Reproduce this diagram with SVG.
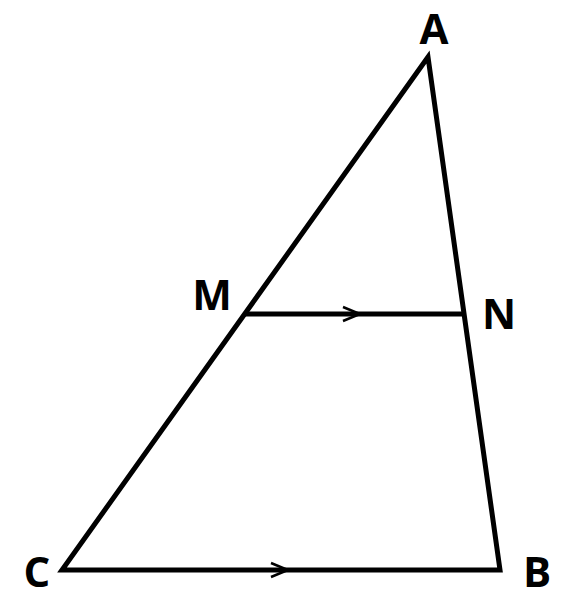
<svg xmlns="http://www.w3.org/2000/svg" width="570" height="600" viewBox="0 0 570 600">
<style>
.edge{stroke:#000;stroke-width:5;fill:none;stroke-linejoin:miter}
.tick{stroke:#000;stroke-width:2.5;fill:none}
.lbl{font-family:"Open Sans","Liberation Sans",sans-serif;font-weight:bold;font-size:42px;fill:#000}
</style>
<rect width="570" height="600" fill="#fff"/>
<g id="connectors">
<polygon class="edge" points="428,57 62,570 500,570"/>
<line class="edge" x1="245" y1="314" x2="465" y2="314"/>
<polyline class="tick" points="343,307 360,314 343,321"/>
<polyline class="tick" points="271,563 288,570 271,577"/>
</g>
<g id="A"><text class="lbl" x="434" y="44" text-anchor="middle">A</text></g>
<g id="M"><text class="lbl" x="212" y="310" text-anchor="middle">M</text></g>
<g id="N"><text class="lbl" x="499" y="329" text-anchor="middle">N</text></g>
<g id="C"><text class="lbl" x="37" y="587" text-anchor="middle">C</text></g>
<g id="B"><text class="lbl" x="537" y="587" text-anchor="middle">B</text></g>
</svg>
